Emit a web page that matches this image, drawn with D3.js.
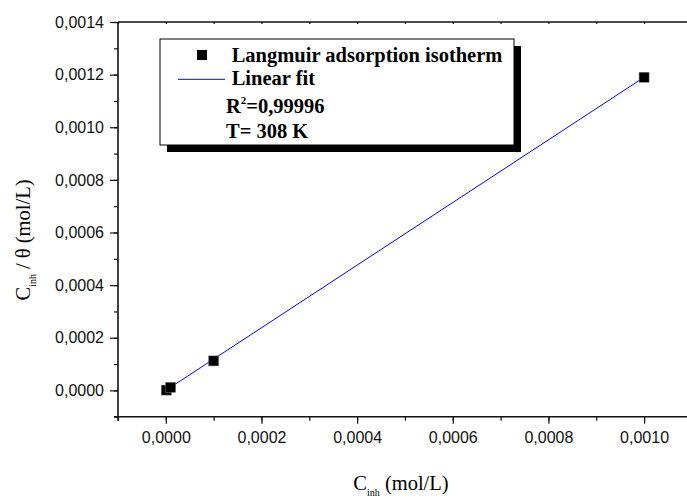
<!DOCTYPE html>
<html>
<head>
<meta charset="utf-8">
<script src="https://cdn.jsdelivr.net/npm/d3@7"></script>
<style>
  body { margin: 0; background: #fff; }
  svg { display: block; }
</style>
</head>
<body>
<script>
var w = 687;
var h = 502;

// data
var conc = [0.000001, 0.00001, 0.0001, 0.001];          // C_inh (mol/L)
var ratio = [0.0000011, 0.0000115, 0.000112, 0.00119];  // C_inh / theta (mol/L)
var fitX = [0.000001, 0.001];
var fitY = [0.0000012, 0.00119];
var xTicks = [0, 0.0002, 0.0004, 0.0006, 0.0008, 0.0010];
var yTicks = [0, 0.0002, 0.0004, 0.0006, 0.0008, 0.0010, 0.0012, 0.0014];
var legendLabels = ["Langmuir adsorption isotherm", "Linear fit"];

var svg = d3.select("body")
    .append("svg")
    .attr("width", w)
    .attr("height", h);

var mLeft = 118, mTop = 22, mBottom = 416.7;

var x = d3.scaleLinear()
    .domain([-0.0001, 0.0011])
    .range([mLeft, mLeft + 6 * 95.65]);

var y = d3.scaleLinear()
    .domain([-0.0001, 0.0014])
    .range([mBottom, mTop]);

var fmt = function (d) { return d3.format(".4f")(d).replace(".", ","); };

//minor ticks
//************** */
var xMinor = d3.range(-1, 12).map(function (i) { return i * 0.0001; });
var yMinor = d3.range(-1, 15).map(function (i) { return i * 0.0001; });

svg.append("g")
    .attr("transform", "translate(0," + mBottom + ")")
    .call(d3.axisBottom(x).tickValues(xMinor).tickSize(4).tickFormat(""))
    .call(function (g) { g.select(".domain").remove(); });

svg.append("g")
    .attr("transform", "translate(" + mLeft + ",0)")
    .call(d3.axisLeft(y).tickValues(yMinor).tickSize(4).tickFormat(""))
    .call(function (g) { g.select(".domain").remove(); });

svg.append("g")
    .attr("transform", "translate(0," + mTop + ")")
    .call(d3.axisTop(x).tickValues(xMinor).tickSize(-2).tickFormat(""))
    .call(function (g) { g.select(".domain").remove(); });

//major axes
//************** */
var xAxis = svg.append("g")
    .attr("transform", "translate(0," + mBottom + ")")
    .call(d3.axisBottom(x).tickValues(xTicks).tickSize(7).tickPadding(8).tickFormat(fmt));

var yAxis = svg.append("g")
    .attr("transform", "translate(" + mLeft + ",0)")
    .call(d3.axisLeft(y).tickValues(yTicks).tickSize(8).tickPadding(6).tickFormat(fmt));

[xAxis, yAxis].forEach(function (a) {
    a.selectAll("path.domain").remove();
    a.selectAll("text")
        .style("font-family", "'Liberation Sans', Arial, sans-serif")
        .style("font-size", "16px")
        .attr("fill", "#111");
});

svg.selectAll(".tick line").attr("stroke", "#111").attr("stroke-width", 1.2);

// frame
svg.append("line").attr("x1", mLeft - 4).attr("x2", w).attr("y1", mBottom).attr("y2", mBottom)
    .attr("stroke", "#111").attr("stroke-width", 1.6);
svg.append("line").attr("x1", mLeft).attr("x2", mLeft).attr("y1", mTop).attr("y2", mBottom + 4)
    .attr("stroke", "#111").attr("stroke-width", 1.6);
svg.append("line").attr("x1", mLeft).attr("x2", w).attr("y1", mTop).attr("y2", mTop)
    .attr("stroke", "#111").attr("stroke-width", 1.6);

//fit line and points
//************** */
var fit = fitX.map(function (d, i) { return [d, fitY[i]]; });
svg.append("path")
    .datum(fit)
    .attr("d", d3.line().x(function (d) { return x(d[0]); }).y(function (d) { return y(d[1]); }))
    .attr("stroke", "#0000ff")
    .attr("stroke-width", 1)
    .attr("fill", "none");

var sq = 10;
svg.selectAll("rect.pt")
    .data(conc)
    .enter()
    .append("rect")
    .attr("class", "pt")
    .attr("x", function (d) { return x(d) - sq / 2; })
    .attr("y", function (d, i) { return y(ratio[i]) - sq / 2; })
    .attr("width", sq)
    .attr("height", sq)
    .attr("fill", "#000")
    .attr("stroke", "#777")
    .attr("stroke-width", 0.5);

//legend
//************** */
var lg = svg.append("g");
lg.append("rect").attr("x", 167).attr("y", 46).attr("width", 354).attr("height", 106).attr("fill", "#000");
lg.append("rect").attr("x", 160).attr("y", 39).attr("width", 354).attr("height", 106)
    .attr("fill", "#fff").attr("stroke", "#000").attr("stroke-width", 1);
lg.append("rect").attr("x", 197).attr("y", 50).attr("width", 10).attr("height", 10).attr("fill", "#000");
lg.append("line").attr("x1", 178).attr("x2", 225).attr("y1", 79.3).attr("y2", 79.3)
    .attr("stroke", "#0000ff").attr("stroke-width", 1);

var serif = "'Liberation Serif', 'Times New Roman', serif";
var lgText = function (tx, ty) {
    return lg.append("text").attr("x", tx).attr("y", ty)
        .style("font-family", serif).style("font-weight", "bold").style("font-size", "20.5px");
};
lgText(231.7, 62).text(legendLabels[0]);
lgText(231.7, 85).text(legendLabels[1]);
var r2 = lgText(226, 113);
r2.append("tspan").text("R");
r2.append("tspan").attr("dy", -9).style("font-size", "11px").text("2");
r2.append("tspan").attr("dy", 9).text("=0,99996");
lgText(226, 138).text("T= 308 K");

//axis titles
//************** */
var xt = svg.append("text")
    .attr("x", 401).attr("y", 490)
    .attr("text-anchor", "middle")
    .style("font-family", serif).style("font-size", "20.5px");
xt.append("tspan").text("C");
xt.append("tspan").attr("dy", 6).style("font-size", "10px").text("inh");
xt.append("tspan").attr("dy", -6).text(" (mol/L)");

var yt = svg.append("text")
    .attr("transform", "translate(30,240) rotate(-90)")
    .attr("text-anchor", "middle")
    .style("font-family", serif).style("font-size", "20.5px");
yt.append("tspan").text("C");
yt.append("tspan").attr("dy", 6).style("font-size", "10px").text("inh");
yt.append("tspan").attr("dy", -6).text(" / θ (mol/L)");
</script>
</body>
</html>
